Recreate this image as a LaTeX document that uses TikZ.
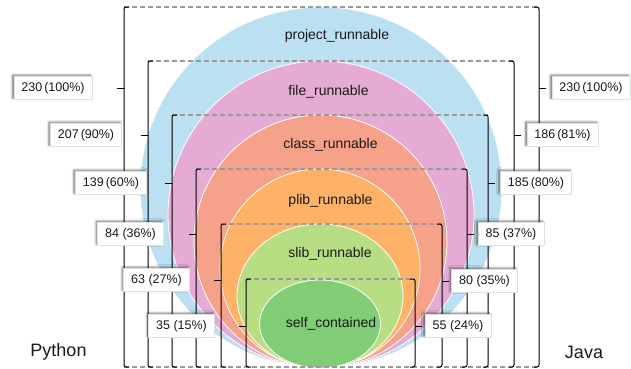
\documentclass[tikz,border=0pt]{standalone}
\usepackage{fontspec}
\setmainfont{Liberation Sans}
\usetikzlibrary{shapes.geometric,shadows.blur,calc}

\definecolor{projblue}{RGB}{187,224,241}
\definecolor{filepink}{RGB}{230,171,213}
\definecolor{classsalmon}{RGB}{246,161,137}
\definecolor{pliborange}{RGB}{253,178,103}
\definecolor{slibgreen}{RGB}{183,222,131}
\definecolor{selfgreen}{RGB}{128,205,118}

\begin{document}
\begin{tikzpicture}[x=1pt,y=-1pt,
  ring/.style={ellipse,draw=white,line width=0.8pt,inner sep=0pt},
  set label/.style={font=\fontsize{14}{16}\selectfont,text=black!90},
  count box/.style={rectangle,fill=white,draw=black!12,line width=0.4pt,inner xsep=7.5pt,minimum height=23pt,font=\fontsize{12.5}{14}\selectfont,text=black!90,blur shadow={shadow xshift=-1.5pt,shadow yshift=1.5pt,shadow blur steps=4,shadow opacity=55}},
  bracket/.style={draw=black,line width=1pt,rounded corners=2pt},
  guide/.style={draw=black!40,line width=1.1pt,dash pattern=on 5pt off 3pt},
  lang/.style={font=\fontsize{18}{20}\selectfont,text=black!90}]
\useasboundingbox (0,0) rectangle (631,368);

% nested sets
\node[ring,fill=projblue,minimum width=362pt,minimum height=361pt] (project) at (321,187.5) {};
\node[ring,fill=filepink,minimum width=306pt,minimum height=307pt] (file) at (321,214.5) {};
\node[ring,fill=classsalmon,minimum width=253pt,minimum height=253pt] (class) at (320.5,241.5) {};
\node[ring,fill=pliborange,minimum width=200pt,minimum height=199pt] (plib) at (320,268.5) {};
\node[ring,fill=slibgreen,minimum width=166pt,minimum height=144pt] (slib) at (320,296) {};
\node[ring,fill=selfgreen,minimum width=121pt,minimum height=88pt] (self) at (320,324) {};

\node[set label] (project label) at (337,36) {project\_runnable};
\node[set label] (file label) at (328.5,92) {file\_runnable};
\node[set label] (class label) at (330.5,145) {class\_runnable};
\node[set label] (plib label) at (330.5,201) {plib\_runnable};
\node[set label] (slib label) at (330,254) {slib\_runnable};
\node[set label] (self label) at (331,324) {self\_contained};

% bracket ends
\coordinate (lt1) at (124,7);   \coordinate (rt1) at (539,7);
\coordinate (lt2) at (148,61);  \coordinate (rt2) at (514,61);
\coordinate (lt3) at (172,115); \coordinate (rt3) at (488,115);
\coordinate (lt4) at (196,169); \coordinate (rt4) at (467,169);
\coordinate (lt5) at (221,224); \coordinate (rt5) at (442,224);
\coordinate (lt6) at (246,279); \coordinate (rt6) at (415,279);
\coordinate (lb1) at (124,367); \coordinate (rb1) at (539,367);
\coordinate (lb2) at (148,367); \coordinate (rb2) at (514,367);
\coordinate (lb3) at (172,367); \coordinate (rb3) at (488,367);
\coordinate (lb4) at (196,367); \coordinate (rb4) at (467,367);
\coordinate (lb5) at (221,367); \coordinate (rb5) at (442,367);
\coordinate (lb6) at (246,367); \coordinate (rb6) at (415,367);

\draw[guide] (lt1) -- (rt1);
\draw[guide] (lt2) -- (rt2);
\draw[guide] (lt3) -- (rt3);
\draw[guide] (lt4) -- (rt4);
\draw[guide] (lt5) -- (rt5);
\draw[guide] (lt6) -- (rt6);
\draw[guide] (lb1) -- (rb1);

% Python side
\draw[bracket] ($(lt1)+(5,0)$) -- (lt1) -- (lb1) -- ++(5,0);
\draw[bracket] ($(lt2)+(5,0)$) -- (lt2) -- (lb2) -- ++(5,0);
\draw[bracket] ($(lt3)+(5,0)$) -- (lt3) -- (lb3) -- ++(5,0);
\draw[bracket] ($(lt4)+(5,0)$) -- (lt4) -- (lb4) -- ++(5,0);
\draw[bracket] ($(lt5)+(5,0)$) -- (lt5) -- (lb5) -- ++(5,0);
\draw[bracket] ($(lt6)+(5,0)$) -- (lt6) -- (lb6) -- ++(5,0);
\draw[bracket] (124,88) -- ++(-7,0);
\draw[bracket] (148,135) -- ++(-7,0);
\draw[bracket] (172,183) -- ++(-7,0);
\draw[bracket] (196,234) -- ++(-7,0);
\draw[bracket] (221,280) -- ++(-7,0);
\draw[bracket] (246,326) -- ++(-7,0);

% Java side
\draw[bracket] ($(rt1)+(-5,0)$) -- (rt1) -- (rb1) -- ++(-5,0);
\draw[bracket] ($(rt2)+(-5,0)$) -- (rt2) -- (rb2) -- ++(-5,0);
\draw[bracket] ($(rt3)+(-5,0)$) -- (rt3) -- (rb3) -- ++(-5,0);
\draw[bracket] ($(rt4)+(-5,0)$) -- (rt4) -- (rb4) -- ++(-5,0);
\draw[bracket] ($(rt5)+(-5,0)$) -- (rt5) -- (rb5) -- ++(-5,0);
\draw[bracket] ($(rt6)+(-5,0)$) -- (rt6) -- (rb6) -- ++(-5,0);
\draw[bracket] (539,88) -- ++(7,0);
\draw[bracket] (514,135) -- ++(7,0);
\draw[bracket] (488,183) -- ++(7,0);
\draw[bracket] (467,234) -- ++(7,0);
\draw[bracket] (442,281) -- ++(7,0);
\draw[bracket] (415,326) -- ++(7,0);

% counts
\node[count box] (py1) at (53,88) {230\,(100\%)};
\node[count box] (py2) at (86,135) {207\,(90\%)};
\node[count box] (py3) at (111,183) {139\,(60\%)};
\node[count box] (py4) at (130.5,234) {84 (36\%)};
\node[count box] (py5) at (156.5,280) {63 (27\%)};
\node[count box] (py6) at (181.5,326) {35 (15\%)};

\node[count box] (ja1) at (591,88) {230\,(100\%)};
\node[count box] (ja2) at (562.5,135) {186\,(81\%)};
\node[count box] (ja3) at (536,183) {185\,(80\%)};
\node[count box] (ja4) at (511,234) {85 (37\%)};
\node[count box] (ja5) at (484.5,281) {80 (35\%)};
\node[count box] (ja6) at (458,326) {55 (24\%)};

\node[lang] (python) at (58.5,352) {Python};
\node[lang] (java) at (584,352) {Java};
\end{tikzpicture}
\end{document}
